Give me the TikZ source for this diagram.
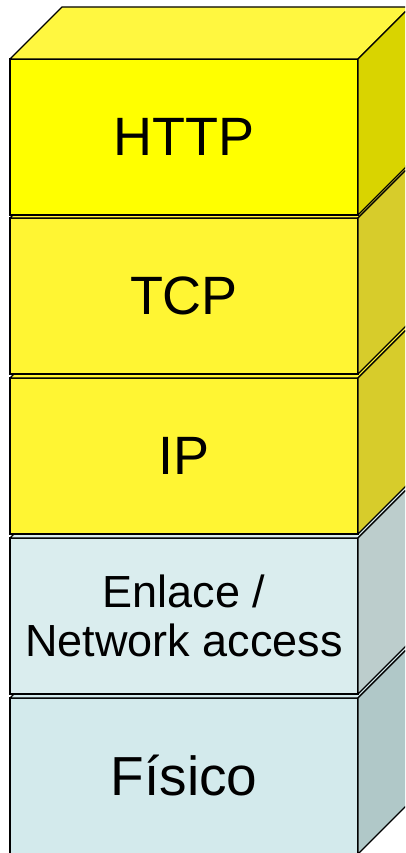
\documentclass[tikz,border=0pt]{standalone}
\usepackage{fontspec}
\setmainfont{Liberation Sans}
\definecolor{httpfront}{HTML}{FFFF00}
\definecolor{httptop}{HTML}{FFF740}
\definecolor{httpside}{HTML}{D9D400}
\definecolor{tcpfront}{HTML}{FFF533}
\definecolor{tcpside}{HTML}{D7CC2B}
\definecolor{enlfront}{HTML}{DAEDEE}
\definecolor{enlside}{HTML}{BCCDCC}
\definecolor{fisfront}{HTML}{D3EAEC}
\definecolor{fisside}{HTML}{B0C8C8}
\tikzset{
  layerbox/.style={draw=black, line width=1.3pt, minimum width=348pt, minimum height=156pt,
    inner sep=0pt, outer sep=0pt, anchor=north west, align=center, text=black},
  face/.style={draw=black, line width=1.3pt, line join=round}
}
\newcommand{\cubefaces}[3]{%
  \draw[face, fill=#2] (#1.north west) -- ++(52,52) -- ++(348,0) -- (#1.north east) -- cycle;
  \draw[face, fill=#3] (#1.north east) -- ++(52,52) -- ++(0,-156) -- (#1.south east) -- cycle;
}
\begin{document}
\begin{tikzpicture}[x=1pt,y=1pt]
\clip (0,0) rectangle (405,-853);
\fill[white] (0,0) rectangle (405,-853);
% Fisico
\node[layerbox, fill=fisfront, font=\fontsize{55}{60}\selectfont] (fis) at (10,-698) {Físico};
\cubefaces{fis}{fisfront}{fisside}
% Enlace
\node[layerbox, fill=enlfront, font=\fontsize{45}{49}\selectfont] (enl) at (10,-538) {Enlace /\\Network access};
\cubefaces{enl}{enlfront}{enlside}
% IP
\node[layerbox, fill=tcpfront, font=\fontsize{54}{60}\selectfont] (ip) at (10,-378) {IP};
\cubefaces{ip}{tcpfront}{tcpside}
% TCP
\node[layerbox, fill=tcpfront, font=\fontsize{54}{60}\selectfont] (tcp) at (10,-218) {TCP};
\cubefaces{tcp}{tcpfront}{tcpside}
% HTTP
\node[layerbox, fill=httpfront, font=\fontsize{54}{60}\selectfont] (http) at (10,-59) {HTTP};
\cubefaces{http}{httptop}{httpside}
\end{tikzpicture}
\end{document}
